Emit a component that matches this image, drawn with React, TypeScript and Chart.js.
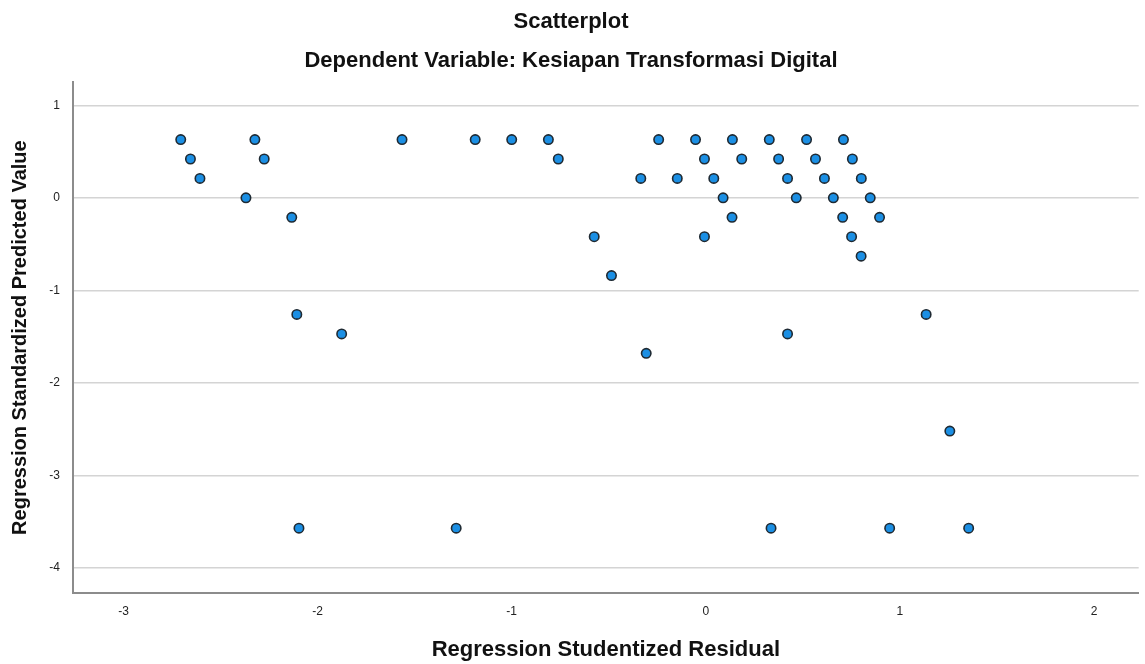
import React, { useEffect, useRef } from "react";
import { Chart, registerables } from "chart.js";

Chart.register(...registerables);

const titleText = "Scatterplot";
const subtitleText = "Dependent Variable: Kesiapan Transformasi Digital";
const xAxisTitle = "Regression Studentized Residual";
const yAxisTitle = "Regression Standardized Predicted Value";

// Regression Studentized Residual (x) and Standardized Predicted Value (y)
const residuals: number[] = [
  -2.705, -2.323, -1.565, -1.188, -1.0, -0.811, -0.243, -0.053, 0.137, 0.327, 0.519, 0.709,
  -2.655, -2.275, -0.76, -0.007, 0.185, 0.375, 0.565, 0.755,
  -2.606, -0.335, -0.147, 0.041, 0.421, 0.611, 0.801,
  -2.369, 0.089, 0.466, 0.657, 0.847,
  -2.133, 0.135, 0.705, 0.895,
  -0.575, -0.007, 0.751,
  0.8,
  -0.486,
  -2.107, 1.135,
  -1.876, 0.421,
  -0.307,
  1.257,
  -2.096, -1.286, 0.336, 0.947, 1.354,
];
const predicted: number[] = [
  0.63, 0.63, 0.63, 0.63, 0.63, 0.63, 0.63, 0.63, 0.63, 0.63, 0.63, 0.63,
  0.42, 0.42, 0.42, 0.42, 0.42, 0.42, 0.42, 0.42,
  0.21, 0.21, 0.21, 0.21, 0.21, 0.21, 0.21,
  0, 0, 0, 0, 0,
  -0.21, -0.21, -0.21, -0.21,
  -0.42, -0.42, -0.42,
  -0.63,
  -0.84,
  -1.26, -1.26,
  -1.47, -1.47,
  -1.68,
  -2.52,
  -3.57, -3.57, -3.57, -3.57, -3.57,
];

const xMin = -3.26;
const xMax = 2.23;
const yMin = -4.27;
const yMax = 1.25;

export default function App() {
  const canvasRef = useRef<HTMLCanvasElement | null>(null);

  useEffect(() => {
    if (!canvasRef.current) return;
    const fontFamily = "'Liberation Sans', Arial, sans-serif";
    Chart.defaults.font.family = fontFamily;
    const points = residuals.map((x, i) => ({ x, y: predicted[i] }));
    const chart = new Chart(canvasRef.current, {
      type: "scatter",
      data: {
        datasets: [
          {
            data: points,
            backgroundColor: "#1b8fe4",
            borderColor: "#1f2a33",
            borderWidth: 1.6,
            pointRadius: 4.7,
            pointHoverRadius: 4.7,
          },
        ],
      },
      options: {
        responsive: true,
        maintainAspectRatio: false,
        animation: false,
        layout: { padding: { left: 0, right: 3, top: 0, bottom: 0 } },
        plugins: {
          legend: { display: false },
          tooltip: { enabled: false },
          title: {
            display: true,
            text: titleText,
            color: "#111",
            font: { size: 22, weight: "bold", family: fontFamily },
            padding: { top: 9, bottom: 12.6 },
          },
          subtitle: {
            display: true,
            text: subtitleText,
            color: "#111",
            font: { size: 22, weight: "bold", family: fontFamily },
            padding: { top: 0, bottom: 7.8 },
          },
        },
        scales: {
          x: {
            type: "linear",
            min: xMin,
            max: xMax,
            afterFit: (scale: any) => {
              scale.height = 71;
            },
            ticks: {
              stepSize: 1,
              includeBounds: false,
              color: "#222",
              font: { size: 12, family: fontFamily },
              padding: 11,
            },
            grid: { display: false, drawTicks: false },
            border: { display: true, color: "#8c8c8c", width: 2 },
            title: {
              display: true,
              text: xAxisTitle,
              color: "#111",
              font: { size: 22, weight: "bold", family: fontFamily },
              padding: { top: 0, bottom: 1 },
            },
          },
          y: {
            type: "linear",
            min: yMin,
            max: yMax,
            afterFit: (scale: any) => {
              scale.width = 73;
            },
            ticks: {
              stepSize: 1,
              includeBounds: false,
              color: "#222",
              font: { size: 12, family: fontFamily },
              padding: 13,
            },
            grid: { display: true, drawTicks: false, color: "#d4d4d4", lineWidth: 1.6 },
            border: { display: true, color: "#8c8c8c", width: 2 },
            title: {
              display: true,
              text: yAxisTitle,
              color: "#111",
              font: { size: 20, weight: "bold", family: fontFamily },
              padding: { top: 8, bottom: 0 },
            },
          },
        },
      },
    });
    return () => chart.destroy();
  }, []);

  return (
    <div
      style={{
        position: "absolute",
        left: 0,
        top: 0,
        width: 1145,
        height: 664,
        background: "#fff",
      }}
    >
      <canvas ref={canvasRef} style={{ display: "block" }} />
    </div>
  );
}
